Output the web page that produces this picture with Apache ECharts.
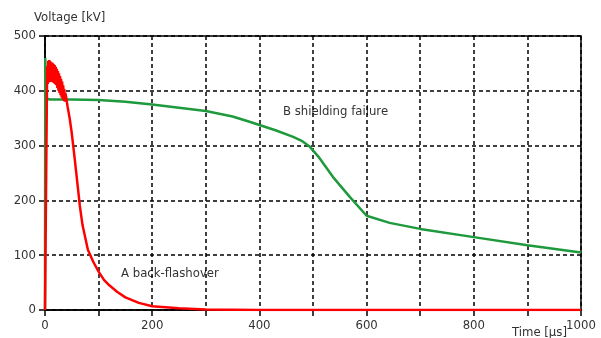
<!DOCTYPE html>
<html><head><meta charset="utf-8">
<script src="https://cdn.jsdelivr.net/npm/echarts@6/dist/echarts.min.js"></script>
<style>html,body{margin:0;padding:0;background:#fff}#c{width:601px;height:338px}</style>
</head><body><div id="c"></div>
<script>
const xTicks = [0, 200, 400, 600, 800, 1000];
const yTicks = [0, 100, 200, 300, 400, 500];
const seriesBName = 'B shielding failure';
const seriesAName = 'A back-flashover';
const greenTime = [0, 0.5, 2, 4, 10, 30, 50, 100, 150, 200, 250, 300, 350, 383, 430, 463, 480, 493, 510, 537, 569, 600, 643, 700, 800, 900, 1000];
const greenVolt = [0, 460, 400, 385, 384, 384, 384, 383, 380, 375, 369, 363, 353, 343, 328, 316, 308, 299, 280, 243, 206, 172, 159, 148, 133, 118, 105];
const redTime = [0, 3, 4, 5, 6, 7, 8, 9, 10, 11, 12, 13, 14, 15, 16, 17, 18, 19, 20, 21, 22, 23, 24, 25, 26, 27, 28, 29, 30, 31, 32, 33, 34, 35, 36, 37, 38, 40, 42, 46, 50, 55, 60, 65, 70, 80, 90, 100, 110, 120, 135, 150, 175, 200, 250, 300, 400, 1000];
const redVolt = [0, 0, 445, 412, 455, 415, 456, 418, 454, 416, 452, 418, 451, 415, 449, 414, 447, 412, 444, 410, 440, 405, 436, 400, 432, 396, 427, 392, 422, 388, 417, 385, 410, 382, 403, 380, 396, 385, 372, 350, 322, 280, 235, 190, 155, 110, 88, 70, 55, 45, 33, 23, 13, 7, 3, 1, 0, 0];

const font = "'Liberation Sans Narrow','Arial Narrow','DejaVu Sans Condensed','Liberation Sans',sans-serif";
const chart = echarts.init(document.getElementById('c'));
chart.setOption({
  backgroundColor: '#fff',
  animation: false,
  grid: {left: 45, right: 20, top: 36, bottom: 28, show: true, borderColor: '#000', borderWidth: 1.5, backgroundColor: 'transparent'},
  xAxis: {
    type: 'value', min: 0, max: 1000, interval: 100,
    axisLine: {show: true, lineStyle: {color: '#000', width: 1.5}},
    axisTick: {show: true, length: 6, lineStyle: {color: '#000', width: 1.5}},
    axisLabel: {color: '#333', fontFamily: font, fontSize: 13, margin: 9,
      formatter: v => xTicks.includes(v) ? String(v) : ''},
    splitLine: {show: true, lineStyle: {color: '#000', type: [4, 3], width: 1.5}}
  },
  yAxis: {
    type: 'value', min: 0, max: 500, interval: 100,
    axisLine: {show: true, lineStyle: {color: '#000', width: 1.5}},
    axisTick: {show: true, length: 6, lineStyle: {color: '#000', width: 1.5}},
    axisLabel: {color: '#333', fontFamily: font, fontSize: 13, margin: 9,
      formatter: v => yTicks.includes(v) ? String(v) : ''},
    splitLine: {show: true, lineStyle: {color: '#000', type: [4, 3], width: 1.5}}
  },
  graphic: [
    {type: 'text', left: 34, top: 11, style: {text: 'Voltage [kV]', fill: '#333', font: '13px ' + font}},
    {type: 'text', left: 512, top: 326, style: {text: 'Time [µs]', fill: '#333', font: '13px ' + font}},
    {type: 'text', left: 283, top: 105, style: {text: seriesBName, fill: '#333', font: '13px ' + font}},
    {type: 'text', left: 121, top: 267, style: {text: seriesAName, fill: '#333', font: '13px ' + font}}
  ],
  series: [
    {name: seriesBName, type: 'line', showSymbol: false, symbol: 'none', data: greenTime.map((t, i) => [t, greenVolt[i]]),
      lineStyle: {color: '#1e9a3c', width: 2.5}, z: 3},
    {name: seriesAName, type: 'line', showSymbol: false, symbol: 'none', data: redTime.map((t, i) => [t, redVolt[i]]),
      lineStyle: {color: '#ff0000', width: 2.5}, z: 4}
  ]
});
</script></body></html>
